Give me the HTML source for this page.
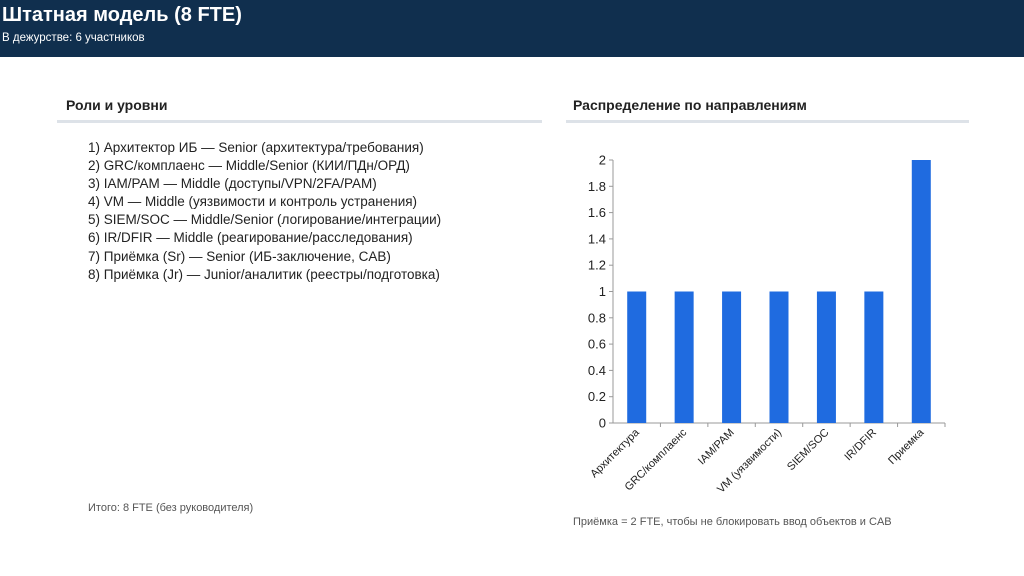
<!DOCTYPE html>
<html><head><meta charset="utf-8">
<style>
body{margin:0;width:1024px;height:576px;background:#fff;font-family:"Liberation Sans","Noto Sans CJK SC",sans-serif;position:relative;overflow:hidden}
.hdr{position:absolute;left:0;top:0;width:1024px;height:57px;background:#102f4e}
.t{position:absolute;left:2px;top:4px;color:#fff;font-size:20px;font-weight:bold}
.st{position:absolute;left:2px;top:32px;color:#fff;font-size:11.5px}
.h2{position:absolute;font-size:14px;font-weight:bold;color:#222}
.rule{position:absolute;height:3px;background:#dde2e8}
.list{position:absolute;left:88px;top:139px;font-size:13.5px;line-height:18.1px;color:#222}
.note{position:absolute;font-size:11px;color:#555}
</style></head><body>
<div class="hdr">
<div class="t">Штатная модель (8 FTE)</div>
<div class="st">В дежурстве: 6 участников</div>
</div>
<div class="h2" style="left:66px;top:97px">Роли и уровни</div>
<div class="rule" style="left:57px;top:120px;width:485px"></div>
<div class="h2" style="left:573px;top:97px">Распределение по направлениям</div>
<div class="rule" style="left:566px;top:120px;width:403px"></div>
<div class="list">
1) Архитектор ИБ — Senior (архитектура/требования)<br>
2) GRC/комплаенс — Middle/Senior (КИИ/ПДн/ОРД)<br>
3) IAM/PAM — Middle (доступы/VPN/2FA/PAM)<br>
4) VM — Middle (уязвимости и контроль устранения)<br>
5) SIEM/SOC — Middle/Senior (логирование/интеграции)<br>
6) IR/DFIR — Middle (реагирование/расследования)<br>
7) Приёмка (Sr) — Senior (ИБ-заключение, CAB)<br>
8) Приёмка (Jr) — Junior/аналитик (реестры/подготовка)
</div>
<div class="note" style="left:88px;top:502px">Итого: 8 FTE (без руководителя)</div>
<div class="note" style="left:573px;top:516px">Приёмка = 2 FTE, чтобы не блокировать ввод объектов и CAB</div>
<svg id="ch" width="1024" height="576" style="position:absolute;left:0;top:0"></svg>
<script>
const categories=["Архитектура","GRC/комплаенс","IAM/PAM","VM (уязвимости)","SIEM/SOC","IR/DFIR","Приемка"];
const values=[1,1,1,1,1,1,2];
const ticks=[0,0.2,0.4,0.6,0.8,1,1.2,1.4,1.6,1.8,2];
const NS="http://www.w3.org/2000/svg",svg=document.getElementById('ch');
const x0=613,x1=945,yb=423,yt=160,ymax=2;
const y=v=>yb-(v/ymax)*(yb-yt);
const bw=(x1-x0)/categories.length;
const xc=i=>x0+bw*(i+0.5);
function mk(t,a){const e=document.createElementNS(NS,t);for(const k in a)e.setAttribute(k,a[k]);svg.appendChild(e);return e;}
let ax=mk('line',{x1:x0,y1:yt,x2:x0,y2:yb,stroke:'#999'});


let bx=mk('line',{x1:x0,y1:yb,x2:x1,y2:yb,stroke:'#999'});


ticks.forEach(t=>{
 mk('line',{x1:x0-4,y1:y(t),x2:x0,y2:y(t),stroke:'#999'});
 const tx=mk('text',{x:x0-7,y:y(t)+4.5,'text-anchor':'end','font-size':13,fill:'#222'});
 tx.textContent=String(t);
 
 
});
categories.forEach((c,i)=>{
 mk('line',{x1:x0+bw*(i+1),y1:yb,x2:x0+bw*(i+1),y2:yb+4,stroke:'#999'});
 const r=mk('rect',{x:xc(i)-9.5,y:y(values[i]),width:19,height:yb-y(values[i]),fill:'#1f6be0'});
 
 
 const tx=mk('text',{x:xc(i)+3,y:yb+10,'text-anchor':'end','font-size':11,fill:'#222',transform:`rotate(-45 ${xc(i)+3} ${yb+10})`});
 tx.textContent=c;
 
 
});
</script>
</body></html>
